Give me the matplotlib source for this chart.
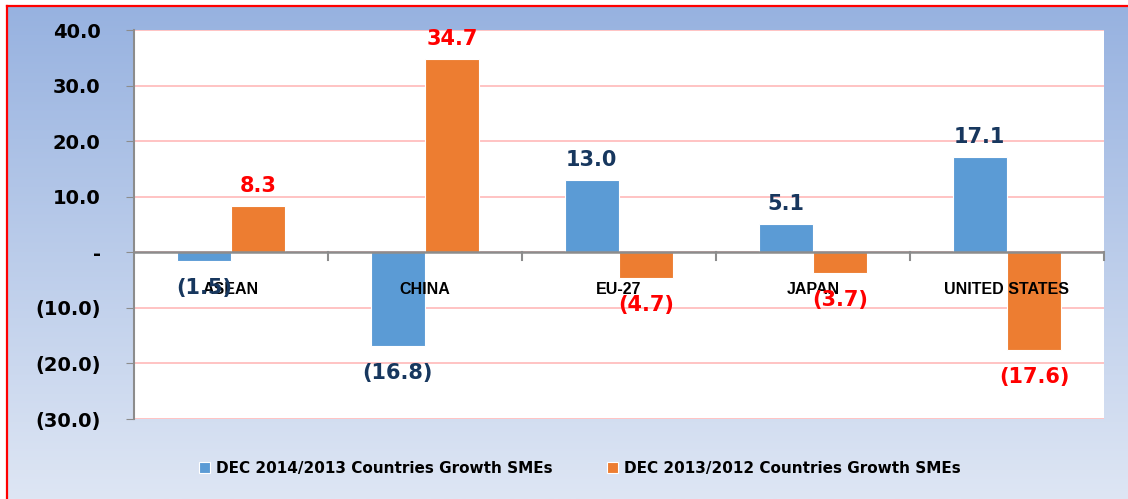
import numpy as np
import matplotlib
matplotlib.use("Agg")
import matplotlib.pyplot as plt
from matplotlib.patches import Patch
from matplotlib.lines import Line2D
from matplotlib.ticker import FuncFormatter

# data
countries = ["ASEAN", "CHINA", "EU-27", "JAPAN", "UNITED STATES"]
growth_2014 = [-1.5, -16.8, 13.0, 5.1, 17.1]
growth_2013 = [8.3, 34.7, -4.7, -3.7, -17.6]
series_names = ["DEC 2014/2013 Countries Growth SMEs",
                "DEC 2013/2012 Countries Growth SMEs"]
yticks = [-30, -20, -10, 0, 10, 20, 30, 40]

blue = "#5B9BD5"
orange = "#ED7D31"
navy = "#17375E"
grey = "#8C8C8C"
lab_font = "DejaVu Sans"

fig = plt.figure(figsize=(11.28, 4.99), dpi=100)
W, H = 1128.0, 499.0

# gradient background inside the red frame
bg = fig.add_axes([7 / W, 0, 1 - 7 / W, 1 - 6 / H], zorder=-5)
grad = np.linspace(0, 1, 256).reshape(-1, 1)
top_c = np.array([0x97, 0xB2, 0xE0]) / 255.0
bot_c = np.array([0xDE, 0xE6, 0xF4]) / 255.0
img = top_c[None, None, :] * (1 - grad[:, :, None]) + bot_c[None, None, :] * grad[:, :, None]
bg.imshow(img, aspect="auto", extent=[0, 1, 0, 1])
bg.axis("off")

# red frame (left and top)
fig.add_artist(Line2D([7 / W, 7 / W], [0, 1 - 6 / H], color="#FF0000", lw=1.6,
                      transform=fig.transFigure))
fig.add_artist(Line2D([7 / W, 1], [1 - 6 / H, 1 - 6 / H], color="#FF0000", lw=1.6,
                      transform=fig.transFigure))

ax = fig.add_axes([134 / W, 1 - 419 / H, (1104 - 134) / W, (419 - 30) / H])
ax.set_facecolor("white")

x = np.arange(len(countries))
bw = 0.28
b1 = ax.bar(x - bw / 2, growth_2014, bw, color=blue, edgecolor="white", lw=0.8, zorder=3)
b2 = ax.bar(x + bw / 2, growth_2013, bw, color=orange, edgecolor="white", lw=0.8, zorder=3)

ax.set_xlim(-0.5, len(countries) - 0.5)
ax.set_ylim(-30, 40)
ax.set_yticks(yticks)
ax.yaxis.set_major_formatter(FuncFormatter(
    lambda v, p: "-" if v == 0 else ("(%.1f)" % abs(v) if v < 0 else "%.1f" % v)))
ax.tick_params(axis="y", length=6, color=grey, pad=18, labelsize=14)
for lab in ax.get_yticklabels():
    lab.set_fontfamily(lab_font)
    lab.set_fontweight("bold")
ax.set_xticks([])

for v in yticks:
    ax.axhline(v, color="#FFB9B9", lw=1.2, zorder=1)
ax.axhline(0, color=grey, lw=1.8, zorder=4)
for i in range(1, len(countries) + 1):
    ax.plot([i - 0.5, i - 0.5], [0, -1.3], color=grey, lw=1.5, zorder=4, clip_on=False)

for s in ["top", "right", "bottom"]:
    ax.spines[s].set_visible(False)
ax.spines["left"].set_color(grey)
ax.spines["left"].set_linewidth(1.5)

# category labels just under the zero line
for i, c in enumerate(countries):
    ax.annotate(c, (i, 0), xytext=(0, -37), textcoords="offset pixels",
                ha="center", va="center", fontsize=11.5, fontweight="bold",
                fontfamily="Liberation Sans", zorder=6)

# data labels
def put_labels(bars, vals, color):
    for b, v in zip(bars, vals):
        cx = b.get_x() + b.get_width() / 2
        txt = "%.1f" % v if v >= 0 else "(%.1f)" % abs(v)
        off = 20 if v >= 0 else -27
        ax.annotate(txt, (cx, v), xytext=(0, off), textcoords="offset pixels",
                    ha="center", va="center", color=color, fontsize=15,
                    fontweight="bold", fontfamily=lab_font, zorder=7)

put_labels(b1, growth_2014, navy)
put_labels(b2, growth_2013, "#FF0000")

handles = [Patch(facecolor=blue, edgecolor="white", lw=0.8),
           Patch(facecolor=orange, edgecolor="white", lw=0.8)]
fig.legend(handles, series_names, loc="center", bbox_to_anchor=(580 / W, 1 - 468 / H),
           ncol=2, frameon=False, handlelength=0.7, handleheight=0.7,
           handletextpad=0.4, columnspacing=3.6,
           prop={"family": lab_font, "weight": "bold", "size": 11})

fig.savefig("out.png", dpi=100)
